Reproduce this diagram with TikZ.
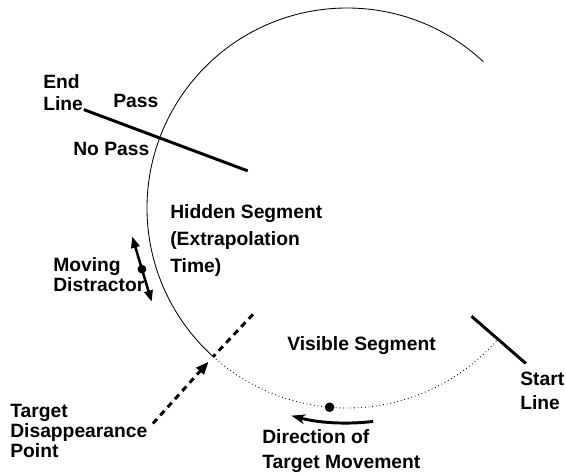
\documentclass[tikz,border=0pt]{standalone}
\usepackage{fontspec}
\setmainfont{Liberation Sans}
\usetikzlibrary{arrows.meta,calc}
\tikzset{
    lbl/.style={font=\bfseries\fontsize{13.7}{#1}\selectfont, align=left, inner sep=0pt, anchor=north west},
    lbl/.default=14.2,
    bar/.style={line width=2.1pt},
    track/.style={line width=0.6pt},
    dot/.style={circle, fill, inner sep=0pt, minimum size=0.24cm},
}
\begin{document}
\begin{tikzpicture}[x=0.025cm,y=0.025cm]
    \useasboundingbox (0,0) rectangle (566,475);
    \coordinate (C) at (347,267);
    % circular track: hidden part solid, visible part dotted
    \draw[track] ($(C)+(47:200)$) arc[start angle=47,end angle=228,radius=200];
    \draw[track,dotted] ($(C)+(228:200)$) arc[start angle=228,end angle=319,radius=200];
    % end and start lines
    \coordinate (endin) at ($(C)+(159.5:106)$);
    \coordinate (endout) at ($(C)+(159.5:281)$);
    \draw[bar] (endout) -- (endin);
    \coordinate (startin) at ($(C)+(-41:165)$);
    \coordinate (startout) at ($(C)+(-41:237)$);
    \draw[bar] (startin) -- (startout);
    % disappearance point
    \coordinate (vanish) at ($(C)+(228:200)$);
    \coordinate (vanishin) at ($(C)+(228.5:142)$);
    \coordinate (vanishtail) at ($(C)+(228:290)$);
    \coordinate (vanishtip) at ($(C)+(228:207)$);
    \draw[bar,dash pattern=on 4.3pt off 3.5pt] (vanishin) -- (vanish);
    \draw[bar,dash pattern=on 4.3pt off 3.5pt,-{Triangle[length=9pt,width=7pt]}] (vanishtail) -- (vanishtip);
    % target and its direction
    \node[dot] (target) at ($(C)+(265:200)$) {};
    \coordinate (dirfrom) at ($(C)+(277:215)$);
    \draw[line width=2.1pt,-{Stealth[length=10pt,width=7pt]}] (dirfrom) arc[start angle=277,end angle=255,radius=215];
    % moving distractor
    \node[dot,minimum size=0.22cm] (distr) at ($(C)+(196.6:214)$) {};
    \coordinate (distrup) at ($(distr)+(106.6:34)$);
    \coordinate (distrdown) at ($(distr)+(-73.4:34)$);
    \draw[line width=1.8pt,{Triangle[length=8pt,width=6pt]}-{Triangle[length=8pt,width=6pt]}] (distrup) -- (distrdown);
    % labels
    \node[lbl=15.6] (endlbl) at (43,401) {End\\Line};
    \node[lbl] (passlbl) at (113,381) {Pass};
    \node[lbl] (nopasslbl) at (73,333) {No Pass};
    \node[lbl=19.2] (hidden) at (170,271) {Hidden Segment\\(Extrapolation\\Time)};
    \node[lbl] (distrlbl) at (53,218) {Moving\\Distractor};
    \node[lbl] (visible) at (287,139) {Visible Segment};
    \node[lbl=17] (startlbl) at (520,103) {Start\\Line};
    \node[lbl] (vanishlbl) at (10,71) {Target\\Disappearance\\Point};
    \node[lbl=17.8] (dirlbl) at (262,46) {Direction of\\Target Movement};
\end{tikzpicture}
\end{document}
